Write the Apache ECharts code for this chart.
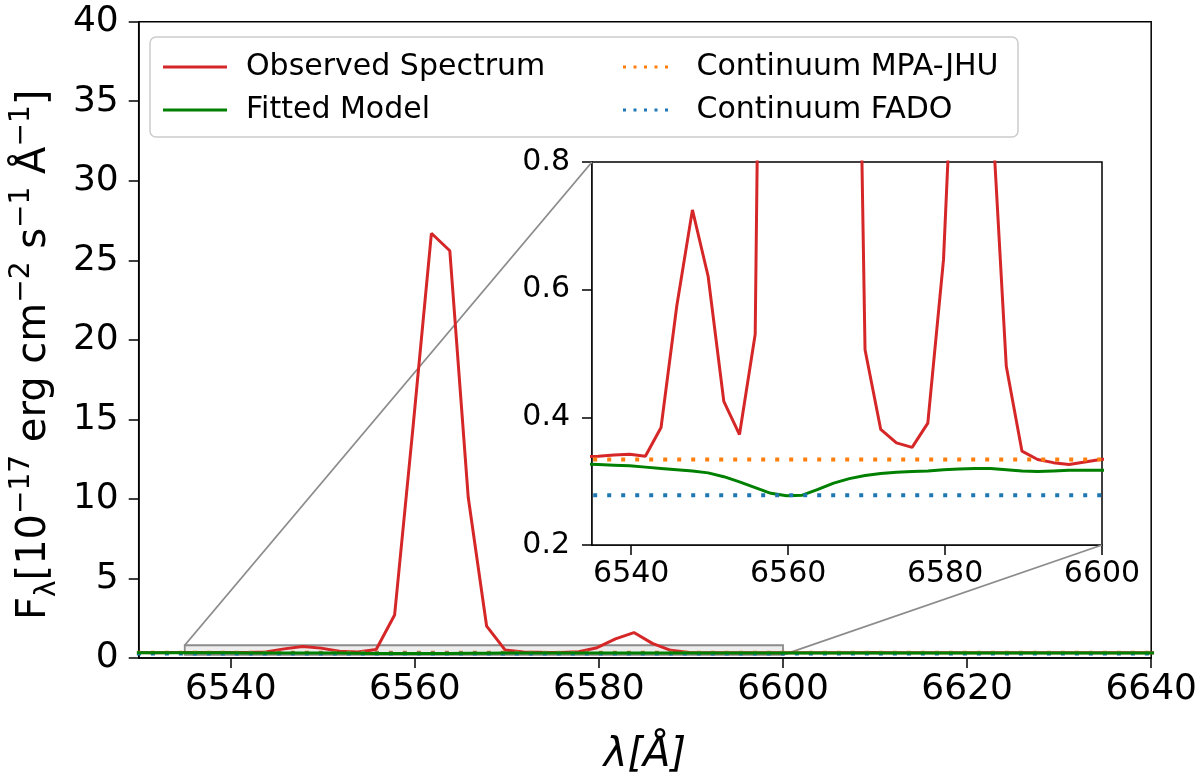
<!DOCTYPE html>
<html>
<head>
<meta charset="utf-8">
<script src="https://cdn.jsdelivr.net/npm/echarts@6/dist/echarts.min.js"></script>
<style>
html,body{margin:0;padding:0;background:#fff;}
#main{width:1200px;height:781px;}
</style>
</head>
<body>
<div id="main"></div>
<script>
// ---- data ----
const wavelength = [6529.8, 6531.8, 6533.8, 6535.8, 6537.8, 6539.8, 6541.8, 6543.8, 6545.8, 6547.8,
  6549.8, 6551.8, 6553.8, 6555.8, 6557.8, 6559.8, 6561.8, 6563.8, 6565.8, 6567.8,
  6569.8, 6571.8, 6573.8, 6575.8, 6577.8, 6579.8, 6581.8, 6583.8, 6585.8, 6587.8,
  6589.8, 6591.8, 6593.8, 6595.8, 6597.8, 6599.8, 6601.8, 6603.8, 6605.8, 6607.8,
  6609.8, 6611.8, 6613.8, 6615.8, 6617.8, 6619.8, 6621.8, 6623.8, 6625.8, 6627.8,
  6629.8, 6631.8, 6633.8, 6635.8, 6637.8, 6639.8, 6641.8];
const observedFlux = [0.338, 0.336, 0.338, 0.339, 0.341, 0.342, 0.339, 0.384, 0.574, 0.725,
  0.621, 0.425, 0.373, 0.530, 2.7, 14.5, 26.7, 25.6, 10.1, 2.0,
  0.506, 0.381, 0.360, 0.353, 0.391, 0.647, 1.2, 1.6, 0.92, 0.48,
  0.347, 0.334, 0.329, 0.326, 0.330, 0.334, 0.336, 0.333, 0.331, 0.335,
  0.338, 0.334, 0.330, 0.332, 0.336, 0.337, 0.333, 0.331, 0.334, 0.336,
  0.332, 0.330, 0.333, 0.335, 0.334, 0.332, 0.333];
const modelFlux = [0.328, 0.328, 0.327, 0.326, 0.325, 0.324, 0.322, 0.320, 0.318, 0.316,
  0.313, 0.307, 0.299, 0.290, 0.281, 0.277, 0.278, 0.287, 0.297, 0.304,
  0.309, 0.312, 0.314, 0.315, 0.316, 0.318, 0.319, 0.320, 0.320, 0.318,
  0.316, 0.315, 0.316, 0.317, 0.317, 0.317, 0.318, 0.318, 0.319, 0.318,
  0.317, 0.318, 0.318, 0.319, 0.318, 0.318, 0.317, 0.317, 0.318, 0.318,
  0.319, 0.318, 0.318, 0.317, 0.318, 0.318, 0.318];
const continuumX = [6529.8, 6641.8];
const continuumMPA = [0.334, 0.334];
const continuumFADO = [0.278, 0.278];

const mainXTicks = [6540, 6560, 6580, 6600, 6620, 6640];
const insetXTicks = [6540, 6560, 6580, 6600];
const insetXRange = [6535, 6600];
const insetYRange = [0.2, 0.8];

// ---- helpers ----
const pairs = (xs, ys) => xs.map((x, i) => [x, ys[i]]);
const FONT = 'DejaVu Sans';
const RED = '#d62728', GREEN = '#008000', ORANGE = '#ff7f0e', BLUE = '#1f77b4';
const DOT = [4, 10];

const chart = echarts.init(document.getElementById('main'), null, {renderer: 'canvas'});

function lineSeries(name, data, color, xi, dotted, z) {
  return {
    name: name, type: 'line', xAxisIndex: xi, yAxisIndex: xi, data: data,
    showSymbol: false, symbol: 'none', clip: true, z: z,
    lineStyle: {color: color, width: dotted ? 4 : 3, type: dotted ? DOT : 'solid', cap: 'butt'},
    itemStyle: {color: color},
    emphasis: {disabled: true}
  };
}

const obs = pairs(wavelength, observedFlux);
const mod = pairs(wavelength, modelFlux);
const mpa = pairs(continuumX, continuumMPA);
const fado = pairs(continuumX, continuumFADO);

const axisBase = {
  axisLine: {show: true, onZero: false, lineStyle: {color: '#000', width: 1.5}},
  splitLine: {show: false}
};
const plain = v => String(v);

const mainRed = lineSeries('Observed Spectrum', obs, RED, 0, false, 2);
mainRed.markArea = {
  silent: true,
  itemStyle: {color: 'rgba(0,0,0,0.07)', borderColor: '#8c8c8c', borderWidth: 1.8},
  data: [[{coord: [insetXRange[0], insetYRange[0]]}, {coord: [insetXRange[1], insetYRange[1]]}]]
};

const SOLID_ICON = 'rect';
const DOTTED_ICON = 'path://M0,0h4v4h-4z M14,0h4v4h-4z M28,0h4v4h-4z M42,0h4v4h-4z M56,0h4v4h-4z';
function legendItem(name, color, dotted) {
  return {name: name, icon: dotted ? DOTTED_ICON : SOLID_ICON,
          itemStyle: {color: color, borderWidth: 0, opacity: 1}};
}
const legendText = {fontSize: 30, fontFamily: FONT, color: '#000', padding: [0, 0, 0, 14]};
const legendBase = {orient: 'vertical', top: 47, itemWidth: 64, itemHeight: 3, itemGap: 13,
                    selectedMode: false, z: 10, textStyle: legendText};

const option = {
  animation: false,
  backgroundColor: '#fff',
  grid: [
    {left: 133, top: 21.7, width: 1020, height: 640, show: true, borderColor: '#000', borderWidth: 1.5, backgroundColor: 'transparent'},
    {left: 592, top: 162, width: 510, height: 383, show: true, borderColor: '#000', borderWidth: 1.5, backgroundColor: '#fff', z: 1}
  ],
  xAxis: [
    Object.assign({}, axisBase, {
      gridIndex: 0, type: 'value', min: 6530, max: 6640,
      axisTick: {show: true, length: 10, lineStyle: {color: '#000', width: 1.5}, customValues: mainXTicks},
      axisLabel: {customValues: mainXTicks, formatter: plain, fontSize: 36, color: '#000', fontFamily: FONT, margin: 14},
      name: 'λ[Å]', nameLocation: 'middle', nameGap: 78,
      nameTextStyle: {fontSize: 40, fontStyle: 'italic', fontFamily: FONT, color: '#000'}
    }),
    Object.assign({}, axisBase, {
      gridIndex: 1, type: 'value', min: insetXRange[0], max: insetXRange[1],
      axisTick: {show: true, length: 10, lineStyle: {color: '#000', width: 1.5}, customValues: insetXTicks},
      axisLabel: {customValues: insetXTicks, formatter: plain, fontSize: 30, color: '#000', fontFamily: FONT, margin: 14}
    })
  ],
  yAxis: [
    Object.assign({}, axisBase, {
      gridIndex: 0, type: 'value', min: 0, max: 40, interval: 5,
      axisTick: {show: true, length: 10, lineStyle: {color: '#000', width: 1.5}},
      axisLabel: {fontSize: 36, color: '#000', fontFamily: FONT, margin: 20},
      name: '{n|F}{sub|λ}{n|[10}{sup|−17}{n| erg cm}{sup|−2}{n| s}{sup|−1}{n| Å}{sup|−1}{n|]}',
      nameLocation: 'middle', nameGap: 68, nameRotate: 90,
      nameTextStyle: {
        color: '#000', fontFamily: FONT, padding: [0, 30, 0, 0],
        rich: {
          n: {fontSize: 40, fontFamily: FONT, color: '#000', lineHeight: 54, verticalAlign: 'middle'},
          sup: {fontSize: 28, fontFamily: FONT, color: '#000', lineHeight: 28, verticalAlign: 'top'},
          sub: {fontSize: 28, fontFamily: FONT, color: '#000', lineHeight: 28, verticalAlign: 'bottom'}
        }
      }
    }),
    Object.assign({}, axisBase, {
      gridIndex: 1, type: 'value', min: insetYRange[0], max: insetYRange[1], interval: 0.2,
      axisTick: {show: true, length: 10, lineStyle: {color: '#000', width: 1.5}},
      axisLabel: {fontSize: 30, color: '#000', fontFamily: FONT, margin: 22, formatter: v => v.toFixed(1)}
    })
  ],
  legend: [
    Object.assign({}, legendBase, {left: 158,
      data: [legendItem('Observed Spectrum', RED, false), legendItem('Fitted Model', GREEN, false)]}),
    Object.assign({}, legendBase, {left: 618,
      data: [legendItem('Continuum MPA-JHU', ORANGE, true), legendItem('Continuum FADO', BLUE, true)]})
  ],
  series: [
    mainRed,
    lineSeries('Continuum MPA-JHU', mpa, ORANGE, 0, true, 2),
    lineSeries('Continuum FADO', fado, BLUE, 0, true, 2),
    lineSeries('Fitted Model', mod, GREEN, 0, false, 3),
    lineSeries('Observed Spectrum', obs, RED, 1, false, 6),
    lineSeries('Fitted Model', mod, GREEN, 1, false, 6),
    lineSeries('Continuum MPA-JHU', mpa, ORANGE, 1, true, 7),
    lineSeries('Continuum FADO', fado, BLUE, 1, true, 7)
  ]
};
chart.setOption(option);

// inset connector lines + legend frame
const p1 = chart.convertToPixel({gridIndex: 0}, [insetXRange[0], insetYRange[1]]);
const q1 = chart.convertToPixel({gridIndex: 1}, [insetXRange[0], insetYRange[1]]);
const p2 = chart.convertToPixel({gridIndex: 0}, [insetXRange[1], insetYRange[0]]);
const q2 = chart.convertToPixel({gridIndex: 1}, [insetXRange[1], insetYRange[0]]);
chart.setOption({
  graphic: [
    {type: 'line', id: 'c1', z: 1, silent: true, shape: {x1: p1[0], y1: p1[1], x2: q1[0], y2: q1[1]},
     style: {stroke: '#8c8c8c', lineWidth: 1.8}},
    {type: 'line', id: 'c2', z: 1, silent: true, shape: {x1: p2[0], y1: p2[1], x2: q2[0], y2: q2[1]},
     style: {stroke: '#8c8c8c', lineWidth: 1.8}},
    {type: 'rect', id: 'legframe', z: 8, silent: true, shape: {x: 150, y: 37, width: 868, height: 100, r: 6},
     style: {fill: 'rgba(255,255,255,0.8)', stroke: '#cccccc', lineWidth: 1.5}}
  ]
});
</script>
</body>
</html>
